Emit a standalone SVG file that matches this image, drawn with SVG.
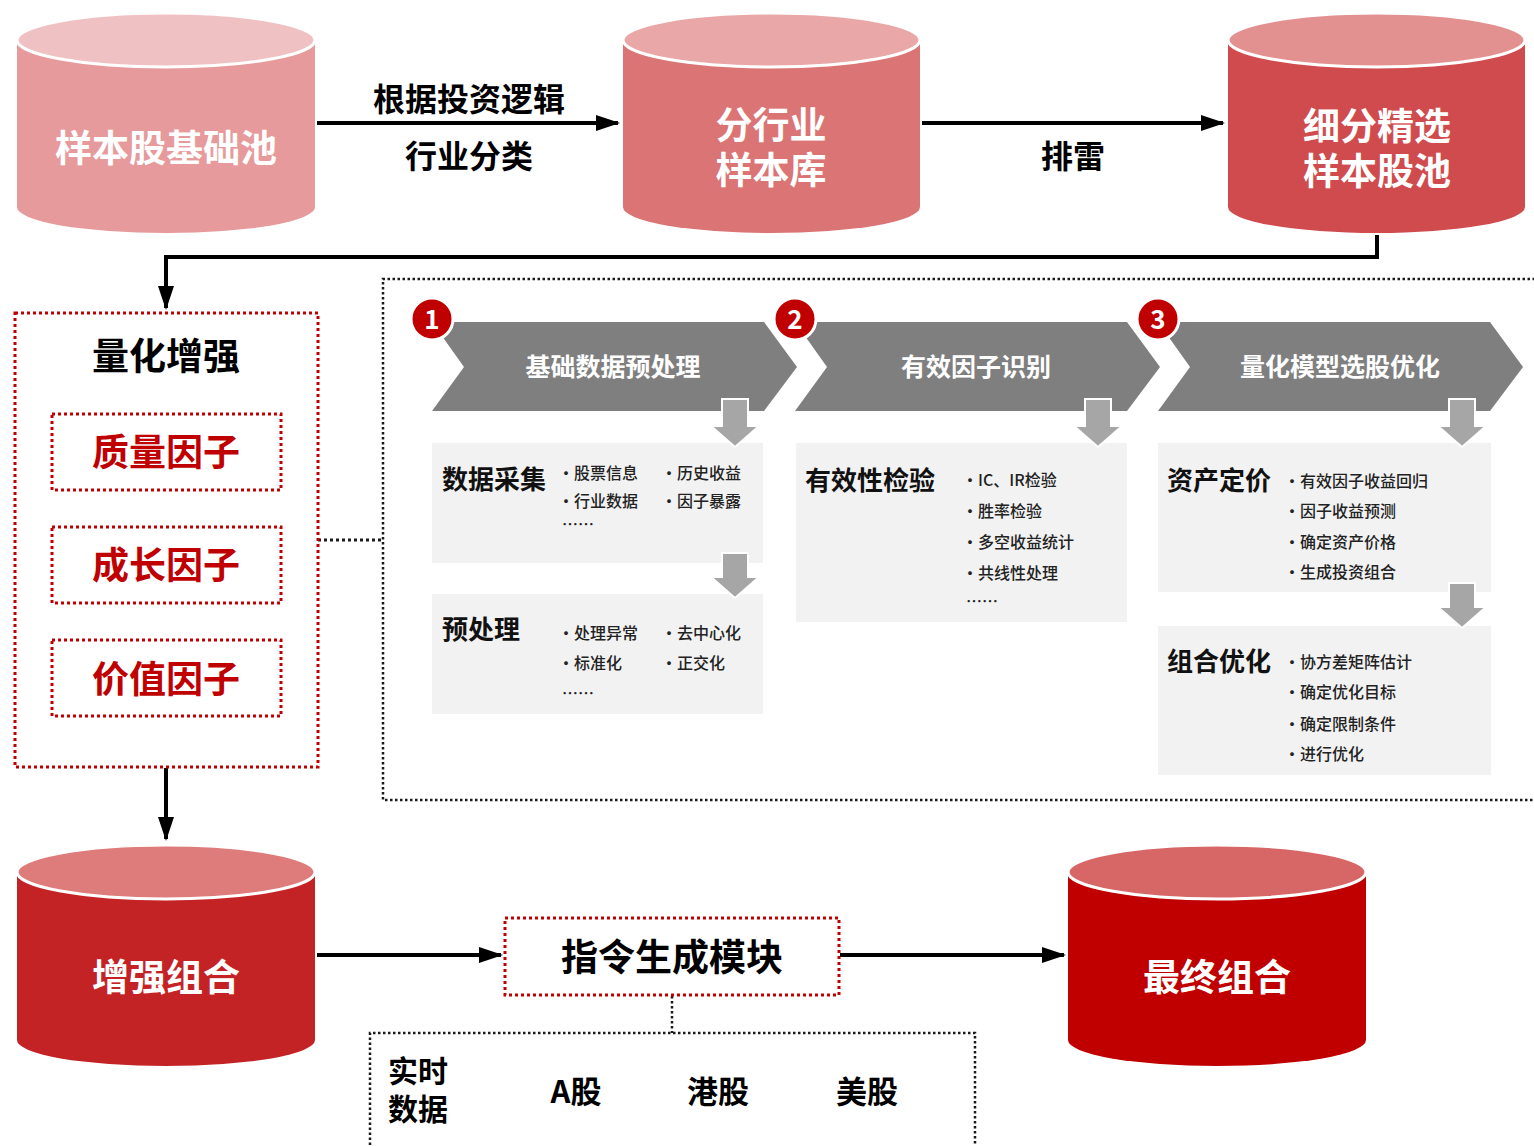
<svg xmlns="http://www.w3.org/2000/svg" width="1534" height="1146" viewBox="0 0 1534 1146">
<defs>
<style>
.cw{font-family:"Noto Sans CJK SC","Noto Sans",sans-serif;font-weight:700;fill:#fff;text-anchor:middle;dominant-baseline:central;}
.lbl{font-family:"Noto Sans CJK SC","Noto Sans",sans-serif;font-weight:700;fill:#000;text-anchor:middle;dominant-baseline:central;}
.red{font-family:"Noto Sans CJK SC","Noto Sans",sans-serif;font-weight:700;fill:#C00000;text-anchor:middle;dominant-baseline:central;font-size:37px;}
.pt{font-family:"Noto Sans CJK SC","Noto Sans",sans-serif;font-weight:700;fill:#111;font-size:26px;dominant-baseline:central;}
.it{font-family:"Noto Sans CJK SC","Noto Sans",sans-serif;font-weight:500;fill:#222;font-size:16px;dominant-baseline:central;}
.conn{stroke:#000;stroke-width:4;fill:none;}
.rdot{fill:none;stroke:#C00000;stroke-width:3;stroke-dasharray:3 3;}
.bdot{fill:none;stroke:#1a1a1a;stroke-width:2.5;stroke-dasharray:2.5 2.5;}
.chev{fill:#7F7F7F;}
.panel{fill:#F2F2F2;}
.barrow{fill:#A6A6A6;stroke:#fff;stroke-width:2;}
.badge{fill:#C00000;stroke:#fff;stroke-width:3;}
.ctop{stroke:#fff;stroke-width:3;}
</style>
<marker id="ah" markerUnits="userSpaceOnUse" markerWidth="24" markerHeight="16" refX="22" refY="8" orient="auto">
<path d="M0,0 L24,8 L0,16 Z" fill="#000"/>
</marker>
</defs>
<rect width="1534" height="1146" fill="#fff"/>

<g id="connectors">
<line class="conn" x1="317" y1="123" x2="618" y2="123" marker-end="url(#ah)"/>
<line class="conn" x1="922" y1="123" x2="1223" y2="123" marker-end="url(#ah)"/>
<polyline class="conn" points="1377,235 1377,257 166,257 166,308" marker-end="url(#ah)"/>
<line class="conn" x1="166" y1="768" x2="166" y2="839" marker-end="url(#ah)"/>
<line class="conn" x1="317" y1="955" x2="501" y2="955" marker-end="url(#ah)"/>
<line class="conn" x1="840" y1="955" x2="1064" y2="955" marker-end="url(#ah)"/>
<line x1="318" y1="540" x2="383" y2="540" fill="none" stroke="#1a1a1a" stroke-width="3" stroke-dasharray="3 3"/>
<line class="bdot" x1="672" y1="996" x2="672" y2="1033"/>
</g>

<g id="lbl-arrow1">
<text class="lbl" x="469" y="97" font-size="32">根据投资逻辑</text>
<text class="lbl" x="469" y="154" font-size="32">行业分类</text>
</g>
<g id="lbl-arrow2">
<text class="lbl" x="1073" y="154" font-size="32">排雷</text>
</g>

<g id="cyl-base">
<path d="M17,40 L17,207 A149,26 0 0 0 315,207 L315,40 Z" fill="#E69A9B"/>
<ellipse class="ctop" cx="166" cy="40" rx="149" ry="27" fill="#F0C1C2"/>
<text class="cw" x="166" y="146" font-size="37">样本股基础池</text>
</g>
<g id="cyl-industry">
<path d="M623,40 L623,207 A148.5,26 0 0 0 920,207 L920,40 Z" fill="#DB7475"/>
<ellipse class="ctop" cx="771.5" cy="40" rx="148.5" ry="27" fill="#E9A7A8"/>
<text class="cw" x="771" y="123" font-size="37">分行业</text>
<text class="cw" x="771" y="168" font-size="37">样本库</text>
</g>
<g id="cyl-refined">
<path d="M1228,40 L1228,207 A148.5,26 0 0 0 1525,207 L1525,40 Z" fill="#D04B4E"/>
<ellipse class="ctop" cx="1376.5" cy="40" rx="148.5" ry="27" fill="#E39091"/>
<text class="cw" x="1377" y="124" font-size="37">细分精选</text>
<text class="cw" x="1377" y="169" font-size="37">样本股池</text>
</g>

<g id="quant-enhance">
<rect class="rdot" x="15" y="313" width="303" height="454"/>
<text class="lbl" x="166" y="354" font-size="37">量化增强</text>
</g>
<g id="factor-quality">
<rect class="rdot" x="52" y="414" width="229" height="76"/>
<text class="red" x="166" y="450">质量因子</text>
</g>
<g id="factor-growth">
<rect class="rdot" x="52" y="527" width="229" height="76"/>
<text class="red" x="166" y="563">成长因子</text>
</g>
<g id="factor-value">
<rect class="rdot" x="52" y="640" width="229" height="76"/>
<text class="red" x="166" y="677">价值因子</text>
</g>

<g id="process-box">
<path class="bdot" d="M1540,279 L383,279 L383,800 L1540,800"/>
</g>

<g id="step1">
<polygon class="chev" points="432,322 764,322 797,367 764,411 432,411 464,367"/>
<text class="cw" x="613" y="365" font-size="25">基础数据预处理</text>
<circle class="badge" cx="432" cy="319" r="21"/>
<text class="cw" x="432" y="317" font-size="26">1</text>
</g>
<g id="step2">
<polygon class="chev" points="795,322 1127,322 1160,367 1127,411 795,411 827,367"/>
<text class="cw" x="976" y="365" font-size="25">有效因子识别</text>
<circle class="badge" cx="795" cy="319" r="21"/>
<text class="cw" x="795" y="317" font-size="26">2</text>
</g>
<g id="step3">
<polygon class="chev" points="1158,322 1490,322 1523,367 1490,411 1158,411 1190,367"/>
<text class="cw" x="1340" y="365" font-size="25">量化模型选股优化</text>
<circle class="badge" cx="1158" cy="319" r="21"/>
<text class="cw" x="1158" y="317" font-size="26">3</text>
</g>

<g id="panel-collect">
<rect class="panel" x="432" y="443" width="331" height="120"/>
<text class="pt" x="442" y="477">数据采集</text>
<text class="it" x="558" y="472">·股票信息</text>
<text class="it" x="661" y="472">·历史收益</text>
<text class="it" x="558" y="500">·行业数据</text>
<text class="it" x="661" y="500">·因子暴露</text>
<text class="it" x="562" y="523">……</text>
</g>
<g id="panel-preprocess">
<rect class="panel" x="432" y="594" width="331" height="120"/>
<text class="pt" x="442" y="627">预处理</text>
<text class="it" x="558" y="632">·处理异常</text>
<text class="it" x="661" y="632">·去中心化</text>
<text class="it" x="558" y="662">·标准化</text>
<text class="it" x="661" y="662">·正交化</text>
<text class="it" x="562" y="692">……</text>
</g>
<g id="panel-validity">
<rect class="panel" x="796" y="443" width="331" height="179"/>
<text class="pt" x="805" y="478">有效性检验</text>
<text class="it" x="962" y="479">·IC、IR检验</text>
<text class="it" x="962" y="510">·胜率检验</text>
<text class="it" x="962" y="541">·多空收益统计</text>
<text class="it" x="962" y="572">·共线性处理</text>
<text class="it" x="966" y="600">……</text>
</g>
<g id="panel-pricing">
<rect class="panel" x="1158" y="443" width="333" height="149"/>
<text class="pt" x="1167" y="478">资产定价</text>
<text class="it" x="1284" y="480">·有效因子收益回归</text>
<text class="it" x="1284" y="510">·因子收益预测</text>
<text class="it" x="1284" y="541">·确定资产价格</text>
<text class="it" x="1284" y="571">·生成投资组合</text>
</g>
<g id="panel-optimize">
<rect class="panel" x="1158" y="626" width="333" height="149"/>
<text class="pt" x="1167" y="659">组合优化</text>
<text class="it" x="1284" y="661">·协方差矩阵估计</text>
<text class="it" x="1284" y="691">·确定优化目标</text>
<text class="it" x="1284" y="723">·确定限制条件</text>
<text class="it" x="1284" y="753">·进行优化</text>
</g>

<g id="flow-arrows">
<polygon class="barrow" points="722,399 748,399 748,426 759,426 735,447 711,426 722,426"/>
<polygon class="barrow" points="722,553 748,553 748,577 759,577 735,598 711,577 722,577"/>
<polygon class="barrow" points="1085,399 1111,399 1111,426 1122,426 1098,447 1074,426 1085,426"/>
<polygon class="barrow" points="1449,399 1475,399 1475,426 1486,426 1462,447 1438,426 1449,426"/>
<polygon class="barrow" points="1449,583 1475,583 1475,607 1486,607 1462,628 1438,607 1449,607"/>
</g>

<g id="cyl-enhanced">
<path d="M17,872 L17,1040 A149,26 0 0 0 315,1040 L315,872 Z" fill="#C42326"/>
<ellipse class="ctop" cx="166" cy="872" rx="149" ry="27" fill="#DE7B7B"/>
<text class="cw" x="166" y="975" font-size="37">增强组合</text>
</g>
<g id="instr-module">
<rect class="rdot" x="505" y="918" width="334" height="77"/>
<text class="lbl" x="672" y="955" font-size="37">指令生成模块</text>
</g>
<g id="cyl-final">
<path d="M1068,872 L1068,1040 A149,26 0 0 0 1366,1040 L1366,872 Z" fill="#C00000"/>
<ellipse class="ctop" cx="1217" cy="872" rx="149" ry="27" fill="#D76767"/>
<text class="cw" x="1217" y="975" font-size="37">最终组合</text>
</g>
<g id="realtime-data">
<path class="bdot" d="M370,1150 L370,1033 L975,1033 L975,1150"/>
<text class="lbl" x="418" y="1069" font-size="30">实时</text>
<text class="lbl" x="418" y="1107" font-size="30">数据</text>
<text class="lbl" x="576" y="1089" font-size="31">A股</text>
<text class="lbl" x="718" y="1089" font-size="31">港股</text>
<text class="lbl" x="867" y="1089" font-size="31">美股</text>
</g>
</svg>
